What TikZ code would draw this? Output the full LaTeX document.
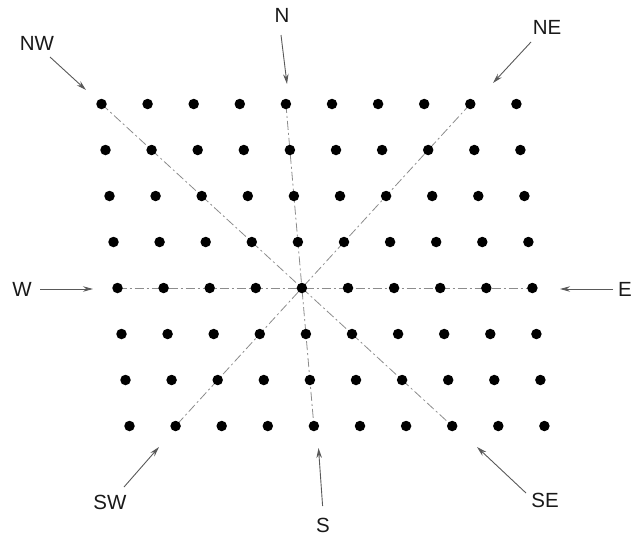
\documentclass[tikz,border=0pt]{standalone}
\usepackage{fontspec}
\setmainfont{Liberation Sans}
\usetikzlibrary{arrows.meta}
\begin{document}
\begin{tikzpicture}[x=1pt,y=-1pt,
  dot/.style={circle,fill=black,inner sep=0pt,minimum size=10.5pt},
  axisline/.style={draw=black!45,line width=0.8pt,dash pattern=on 9pt off 3pt on 2pt off 3pt},
  pointer/.style={draw=black!65,line width=0.9pt,-{Stealth[length=10pt,width=5.5pt]}},
  lbl/.style={font=\fontsize{20.5}{22}\selectfont,text=black!90,inner sep=0pt}]
\useasboundingbox (0,0) rectangle (632,536);
% grid coordinates
\foreach \r in {0,...,7}{
  \foreach \c in {0,...,9}{
    \coordinate (p\r-\c) at ({101.5+4*\r+46.1*\c},{104+46*\r});
  }
}
% direction lines through the centre
\draw[axisline] (p4-0) -- (p4-9);
\draw[axisline] (p0-4) -- (p7-4);
\draw[axisline] (p0-0) -- (p7-7);
\draw[axisline] (p0-8) -- (p7-1);
% dots
\foreach \r in {0,...,7}{
  \foreach \c in {0,...,9}{
    \node[dot] (d\r-\c) at (p\r-\c) {};
  }
}
% labels
\node[lbl] (NW) at (37,43) {NW};
\node[lbl] (N)  at (282,15) {N};
\node[lbl] (NE) at (547,27) {NE};
\node[lbl] (W)  at (22,289) {W};
\node[lbl] (E)  at (625,289) {E};
\node[lbl] (SW) at (110,502) {SW};
\node[lbl] (S)  at (323,525) {S};
\node[lbl] (SE) at (545,500) {SE};
% arrow end points
\coordinate (nwA) at (50,57);   \coordinate (nwB) at (86,90);
\coordinate (nA)  at (281,35);  \coordinate (nB)  at (287,84);
\coordinate (neA) at (531,42);  \coordinate (neB) at (493,83);
\coordinate (wA)  at (40,289);  \coordinate (wB)  at (93,289);
\coordinate (eA)  at (613,289); \coordinate (eB)  at (560,289);
\coordinate (swA) at (124,487); \coordinate (swB) at (159,447);
\coordinate (sA)  at (322.6,506); \coordinate (sB) at (318.5,448);
\coordinate (seA) at (526,493); \coordinate (seB) at (477,447);
\draw[pointer] (nwA) -- (nwB);
\draw[pointer] (nA) -- (nB);
\draw[pointer] (neA) -- (neB);
\draw[pointer] (wA) -- (wB);
\draw[pointer] (eA) -- (eB);
\draw[pointer] (swA) -- (swB);
\draw[pointer] (sA) -- (sB);
\draw[pointer] (seA) -- (seB);
\end{tikzpicture}
\end{document}
